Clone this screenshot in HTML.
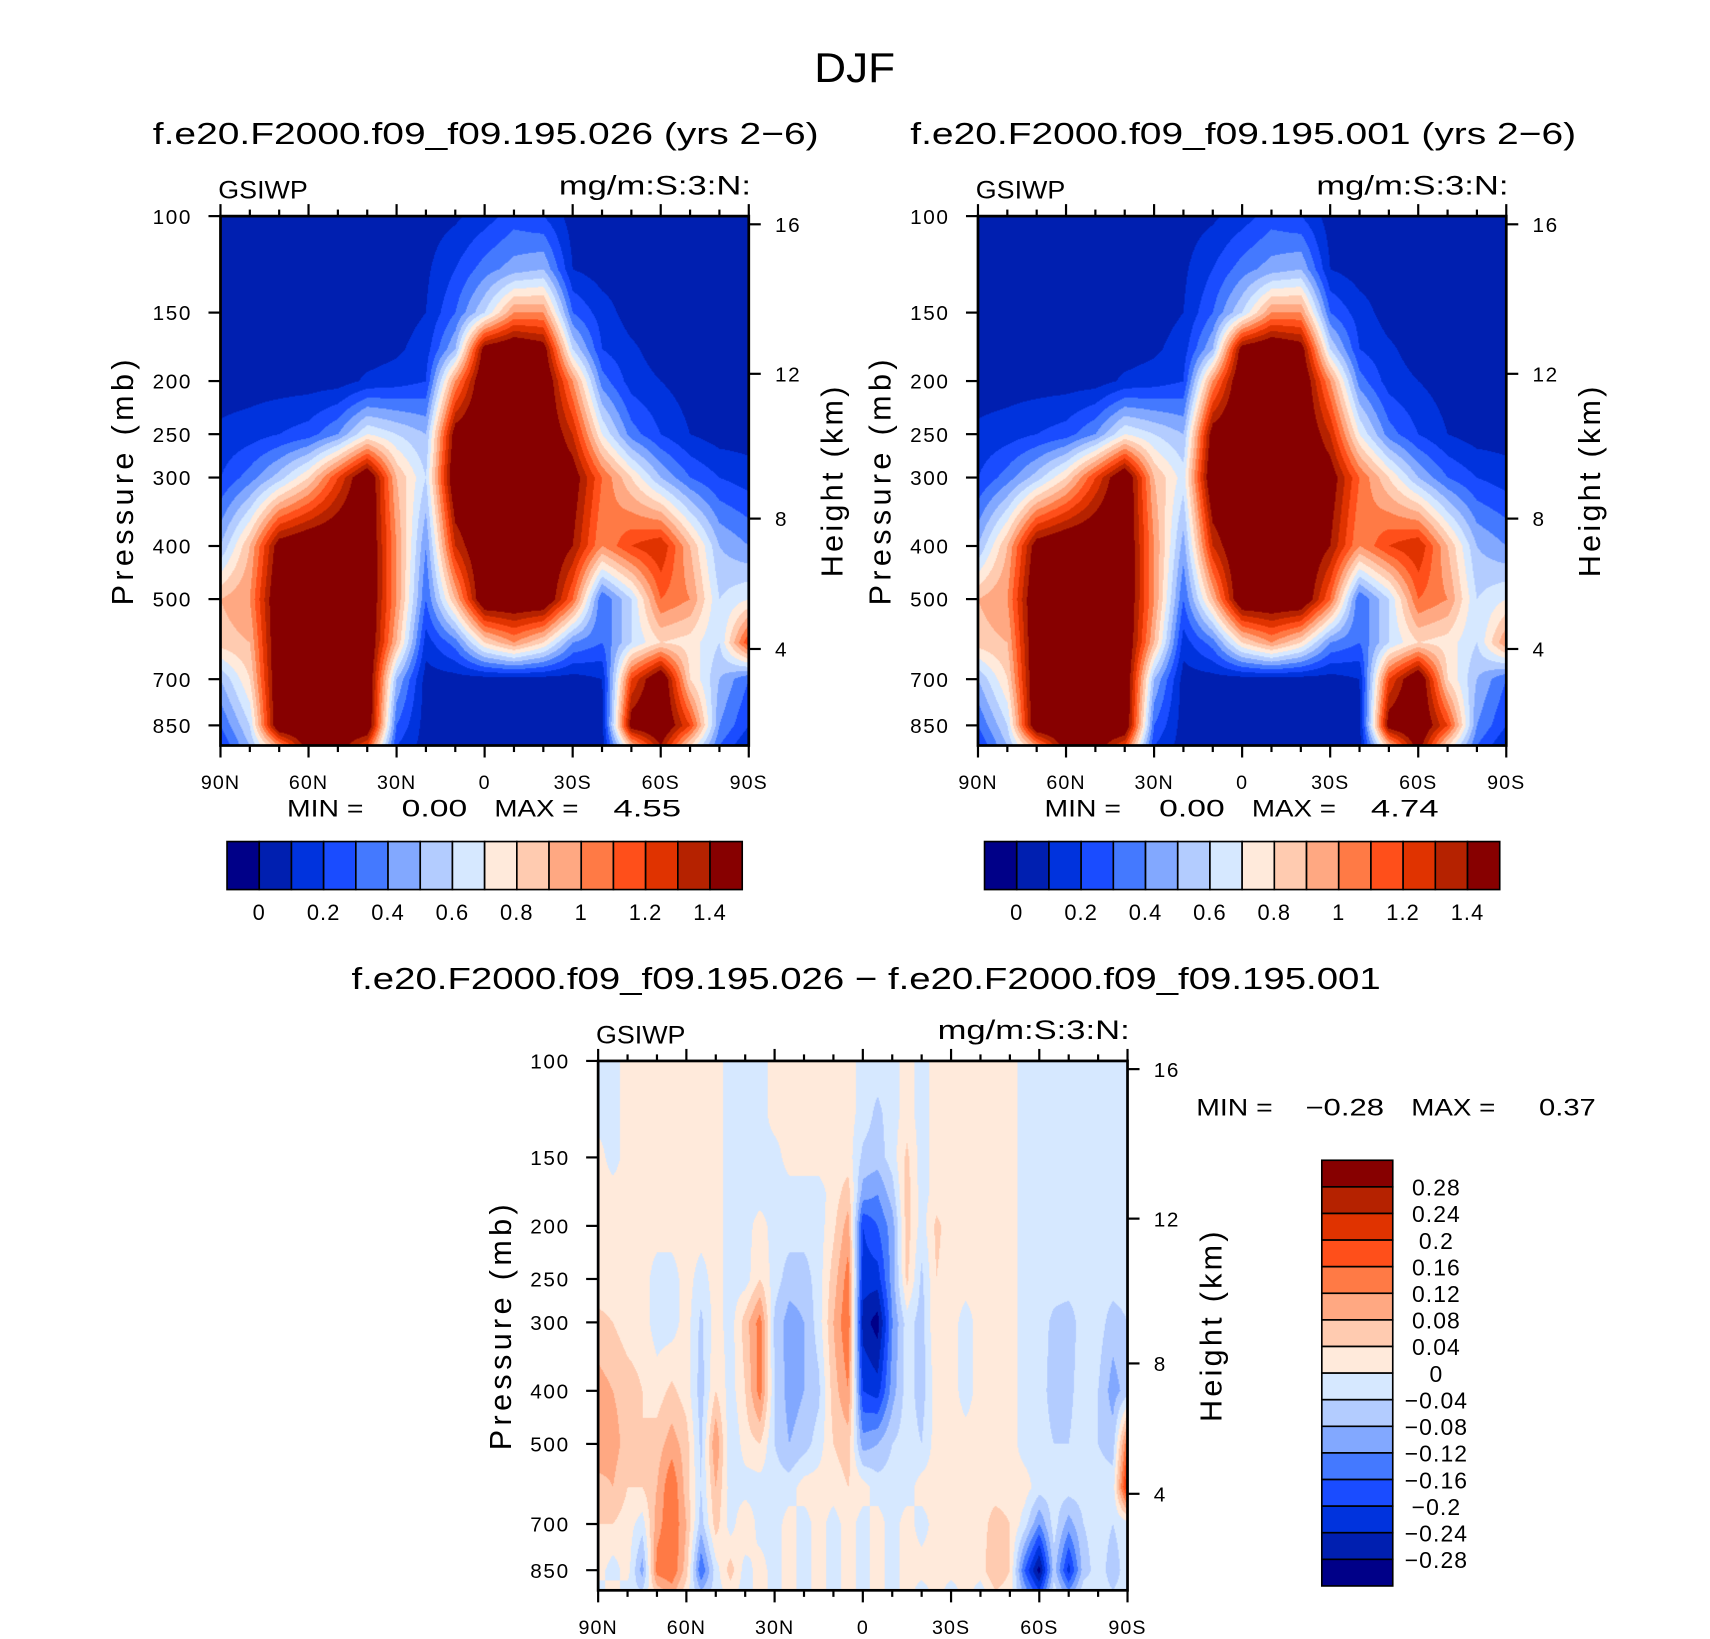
<!DOCTYPE html>
<html><head><meta charset="utf-8"><style>
html,body{margin:0;padding:0;background:#fff;width:1710px;height:1639px;overflow:hidden}
#wrap{position:absolute;left:0;top:0;width:1566px;height:1502px;transform:scale(1.0915);transform-origin:0 0}
svg{position:absolute;left:0;top:0}
canvas{position:absolute}
text{font-family:"Liberation Sans",sans-serif;fill:#000}
</style></head><body>
<div id="wrap">
<canvas id="c1"></canvas>
<canvas id="c2"></canvas>
<canvas id="c3"></canvas>
<svg id="s" width="1566" height="1502" viewBox="0 0 1566 1502">
<text x="746" y="75" font-size="38" textLength="74" lengthAdjust="spacingAndGlyphs">DJF</text>
<text x="140" y="132" font-size="28" textLength="610" lengthAdjust="spacingAndGlyphs">f.e20.F2000.f09_f09.195.026 (yrs 2−6)</text>
<text x="834" y="132" font-size="28" textLength="610" lengthAdjust="spacingAndGlyphs">f.e20.F2000.f09_f09.195.001 (yrs 2−6)</text>
<text x="322" y="906" font-size="28" textLength="943" lengthAdjust="spacingAndGlyphs">f.e20.F2000.f09_f09.195.026 − f.e20.F2000.f09_f09.195.001</text>
<g font-size="22">
<text x="263" y="748" textLength="70" lengthAdjust="spacingAndGlyphs">MIN =</text>
<text x="368" y="748" textLength="60" lengthAdjust="spacingAndGlyphs">0.00</text>
<text x="453" y="748" textLength="77" lengthAdjust="spacingAndGlyphs">MAX =</text>
<text x="562" y="748" textLength="62" lengthAdjust="spacingAndGlyphs">4.55</text>
<text x="957" y="748" textLength="70" lengthAdjust="spacingAndGlyphs">MIN =</text>
<text x="1062" y="748" textLength="60" lengthAdjust="spacingAndGlyphs">0.00</text>
<text x="1147" y="748" textLength="77" lengthAdjust="spacingAndGlyphs">MAX =</text>
<text x="1256" y="748" textLength="62" lengthAdjust="spacingAndGlyphs">4.74</text>
<text x="1096" y="1022" textLength="70" lengthAdjust="spacingAndGlyphs">MIN =</text>
<text x="1196" y="1022" textLength="72" lengthAdjust="spacingAndGlyphs">−0.28</text>
<text x="1293" y="1022" textLength="77" lengthAdjust="spacingAndGlyphs">MAX =</text>
<text x="1410" y="1022" textLength="52" lengthAdjust="spacingAndGlyphs">0.37</text>
</g>
</svg>
</div>
<script>
const LAT10 = [90,80,70,60,50,40,30,20,10,0,-10,-20,-30,-40,-50,-60,-70,-80,-90];
const LEV = [100,125,150,175,200,250,300,400,500,600,700,850,925];
const F1 = [
[0.05,0.05,0.05,0.05,0.05,0.05,0.05,0.05,0.08,0.15,0.25,0.2,0.05,0.05,0.05,0.05,0.05,0.05,0.05],
[0.05,0.05,0.05,0.05,0.05,0.05,0.05,0.08,0.2,0.35,0.45,0.5,0.1,0.05,0.05,0.05,0.05,0.05,0.05],
[0.05,0.05,0.05,0.05,0.05,0.05,0.05,0.1,0.3,0.6,1.0,1.0,0.3,0.15,0.05,0.05,0.05,0.05,0.05],
[0.05,0.05,0.05,0.05,0.05,0.05,0.08,0.15,0.5,1.5,1.6,1.5,0.6,0.2,0.12,0.05,0.05,0.05,0.05],
[0.05,0.05,0.05,0.05,0.05,0.12,0.15,0.2,1.0,1.6,1.6,1.6,1.0,0.35,0.15,0.1,0.05,0.05,0.05],
[0.12,0.15,0.2,0.25,0.4,0.7,0.6,0.5,1.5,1.6,1.6,1.6,1.3,0.7,0.35,0.2,0.1,0.05,0.05],
[0.2,0.35,0.55,0.8,1.2,1.6,0.9,0.6,1.6,1.6,1.6,1.6,1.5,1.1,0.8,0.5,0.3,0.2,0.15],
[0.5,0.9,1.5,1.6,1.6,1.6,1.0,0.4,1.3,1.6,1.6,1.6,1.4,1.0,1.2,1.3,0.9,0.5,0.4],
[0.9,1.0,1.6,1.6,1.6,1.6,1.0,0.3,0.9,1.6,1.6,1.6,1.1,0.3,0.6,1.1,1.0,0.6,0.7],
[0.85,0.9,1.6,1.6,1.6,1.6,0.9,0.15,0.35,0.8,1.0,0.8,0.4,0.3,0.6,0.8,0.75,0.6,1.2],
[0.5,0.8,1.6,1.6,1.6,1.6,0.5,0.05,0.05,0.05,0.05,0.05,0.05,0.1,1.2,1.6,0.8,0.5,0.3],
[0.3,0.6,1.6,1.6,1.6,1.6,0.3,0.05,0.05,0.05,0.05,0.05,0.05,0.05,1.5,1.6,1.2,0.4,0.2],
[0.2,0.5,1.0,1.5,1.5,1.2,0.2,0.05,0.05,0.05,0.05,0.05,0.05,0.05,0.9,1.4,0.8,0.3,0.1]
];
const F2 = [
[0.05,0.05,0.05,0.05,0.05,0.05,0.05,0.05,0.08,0.15,0.25,0.2,0.05,0.05,0.05,0.05,0.05,0.05,0.05],
[0.05,0.05,0.05,0.05,0.05,0.05,0.05,0.08,0.2,0.35,0.45,0.5,0.1,0.05,0.05,0.05,0.05,0.05,0.05],
[0.05,0.05,0.05,0.05,0.05,0.05,0.05,0.1,0.3,0.6,1.0,1.0,0.3,0.15,0.05,0.05,0.05,0.05,0.05],
[0.05,0.05,0.05,0.05,0.05,0.05,0.08,0.15,0.5,1.5,1.6,1.5,0.6,0.2,0.12,0.05,0.05,0.05,0.05],
[0.05,0.05,0.05,0.05,0.05,0.12,0.15,0.2,1.0,1.6,1.6,1.6,1.0,0.35,0.15,0.1,0.05,0.05,0.05],
[0.12,0.15,0.2,0.25,0.4,0.7,0.6,0.5,1.5,1.6,1.6,1.6,1.3,0.7,0.35,0.2,0.1,0.05,0.05],
[0.2,0.35,0.55,0.8,1.2,1.6,0.9,0.65,1.6,1.6,1.6,1.6,1.5,1.1,0.8,0.5,0.3,0.2,0.15],
[0.5,0.9,1.5,1.6,1.6,1.6,1.0,0.45,1.3,1.6,1.6,1.6,1.4,1.0,1.2,1.3,0.9,0.5,0.4],
[0.9,1.0,1.6,1.6,1.6,1.6,1.0,0.3,0.9,1.6,1.6,1.6,1.1,0.3,0.6,1.1,1.0,0.6,0.7],
[0.85,0.9,1.6,1.6,1.6,1.6,0.9,0.15,0.35,0.8,1.0,0.8,0.4,0.3,0.6,0.8,0.75,0.6,1.0],
[0.5,0.8,1.6,1.6,1.6,1.6,0.5,0.05,0.05,0.05,0.05,0.05,0.05,0.1,1.2,1.6,0.8,0.5,0.3],
[0.3,0.6,1.6,1.6,1.6,1.6,0.3,0.05,0.05,0.05,0.05,0.05,0.05,0.05,1.5,1.6,1.2,0.4,0.2],
[0.2,0.5,1.0,1.5,1.5,1.2,0.2,0.05,0.05,0.05,0.05,0.05,0.05,0.05,0.9,1.5,0.8,0.3,0.1]
];
const LAT5 = [90,85,80,75,70,65,60,55,50,45,40,35,30,25,20,15,10,5,0,-5,-10,-15,-20,-25,-30,-35,-40,-45,-50,-55,-60,-65,-70,-75,-80,-85,-90];
const p = 0.02, n = -0.02;
const FD = [
[n,n,p,p,p,p,p,p,p,n,n,n,p,p,p,p,p,p,n,n,n,p,n,p,p,p,p,p,p,n,n,n,n,n,n,n,n],
[n,n,p,p,p,p,p,p,p,n,n,n,p,p,p,p,p,p,n,-0.05,n,p,n,p,p,p,p,p,p,n,n,n,n,n,n,n,n],
[p,n,p,p,p,p,p,p,p,n,n,n,n,p,p,p,p,p,-0.05,-0.06,n,0.05,n,p,p,p,p,p,p,n,n,n,n,n,n,n,n],
[p,p,p,p,p,p,p,p,p,n,n,n,n,n,n,n,p,0.06,-0.1,-0.12,-0.06,0.06,n,p,p,p,p,p,p,n,n,n,n,n,n,n,n],
[p,p,p,p,p,p,p,p,p,n,n,p,n,n,n,n,0.03,0.1,-0.2,-0.16,-0.1,0.06,n,0.05,p,p,p,p,p,n,n,n,n,n,n,n,n],
[p,p,p,p,n,n,p,n,p,n,n,0.04,n,-0.06,-0.06,n,0.06,0.14,-0.22,-0.22,-0.1,0.05,-0.05,0.04,p,p,p,p,p,n,n,n,n,n,n,n,n],
[0.05,0.04,p,p,n,n,p,-0.05,p,n,0.06,0.14,-0.05,-0.1,-0.08,n,0.08,0.16,-0.26,-0.3,-0.12,n,-0.06,0.04,p,n,p,p,p,n,n,-0.05,-0.06,n,n,-0.06,-0.04],
[0.1,0.08,0.06,0.04,p,0.05,p,-0.06,0.04,n,0.04,0.14,-0.04,-0.1,-0.08,-0.05,0.06,0.12,-0.2,-0.22,-0.1,n,-0.06,p,p,n,p,p,p,n,n,-0.06,-0.05,n,-0.04,-0.1,-0.06],
[0.12,0.1,0.06,0.04,0.06,0.1,0.06,-0.05,0.12,-0.04,p,0.04,-0.04,-0.08,-0.06,n,0.04,0.06,-0.1,-0.08,-0.04,n,-0.04,p,p,p,p,p,p,n,n,-0.04,-0.04,n,-0.04,-0.06,0.16],
[0.06,0.08,0.04,0.04,0.08,0.16,0.06,-0.04,0.08,n,n,n,n,n,p,p,p,0.04,p,n,n,n,p,p,p,p,p,p,p,p,n,n,n,n,n,n,0.24],
[0.04,0.04,p,n,0.1,0.16,0.08,-0.06,0.06,n,0.04,n,n,p,n,p,n,p,n,p,n,p,n,p,p,p,p,0.06,0.04,n,-0.12,n,-0.1,-0.04,n,-0.04,n],
[p,n,p,-0.1,0.14,0.16,0.06,-0.16,n,0.06,n,p,n,p,n,p,n,p,n,p,n,p,p,p,p,p,p,0.08,0.04,-0.16,-0.3,-0.06,-0.22,-0.06,n,-0.06,n],
[n,p,n,-0.04,0.06,0.1,p,-0.08,n,p,n,p,n,p,n,p,n,p,n,p,n,p,n,p,n,p,n,0.04,p,-0.1,-0.2,n,-0.12,n,n,-0.04,n]
];
const PAL = ['#000088','#001fb0','#0033dd','#1a4cff','#4479ff','#82a8ff','#b3ccff','#d6e8ff','#ffeadb','#ffcbb0','#ffa882','#ff7a45','#ff4f1a','#e03300','#b52200','#870000'];
const CB1 = ['0','0.2','0.4','0.6','0.8','1','1.2','1.4'];
const CBD = ['0.28','0.24','0.2','0.16','0.12','0.08','0.04','0','−0.04','−0.08','−0.12','−0.16','−0.2','−0.24','−0.28'];
const PTICKS = [100,150,200,250,300,400,500,700,850];
const HTICKS = ['16','12','8','4'];
const HPRES = [103.5,194,356.5,616.6];
const XTICKS = ['90N','60N','30N','0','30S','60S','90S'];

const S = document.getElementById('s');
const NS = 'http://www.w3.org/2000/svg';
function mk(tag, attrs){const e=document.createElementNS(NS,tag);for(const k in attrs)e.setAttribute(k,attrs[k]);S.appendChild(e);return e;}

function interp(grid, lats, lat, pr){
  const lp=Math.log(pr);
  let j=0; while(j<LEV.length-2 && Math.log(LEV[j+1])<lp) j++;
  let ty=(lp-Math.log(LEV[j]))/(Math.log(LEV[j+1])-Math.log(LEV[j])); ty=Math.max(0,Math.min(1,ty));
  let i=0; while(i<lats.length-2 && lats[i+1]>lat) i++;
  let tx=(lats[i]-lat)/(lats[i]-lats[i+1]); tx=Math.max(0,Math.min(1,tx));
  const a=grid[j][i],b=grid[j][i+1],c=grid[j+1][i],d=grid[j+1][i+1];
  return (a*(1-tx)+b*tx)*(1-ty)+(c*(1-tx)+d*tx)*ty;
}
function hex(h){return [parseInt(h.substr(1,2),16),parseInt(h.substr(3,2),16),parseInt(h.substr(5,2),16)];}
const RGB=PAL.map(hex);

function panel(id, X, Y, W, H, grid, lats, quant, tag){
  const cv=document.getElementById(id);
  const sc=1.1;
  cv.width=Math.round(W*sc); cv.height=Math.round(H*sc);
  cv.style.left=X+'px'; cv.style.top=Y+'px'; cv.style.width=W+'px'; cv.style.height=H+'px';
  const ctx=cv.getContext('2d'); const im=ctx.createImageData(cv.width,cv.height);
  const L=Math.log(925/100);
  for(let py=0;py<cv.height;py++){
    const pr=100*Math.exp((py+0.5)/cv.height*L);
    for(let px=0;px<cv.width;px++){
      const lat=90-(px+0.5)/cv.width*180;
      const c=RGB[quant(interp(grid,lats,lat,pr))];
      const o=(py*cv.width+px)*4; im.data[o]=c[0];im.data[o+1]=c[1];im.data[o+2]=c[2];im.data[o+3]=255;
    }
  }
  ctx.putImageData(im,0,0);
  const yOf=pr=>Y+Math.log(pr/100)/L*H;
  const xOf=lat=>X+(90-lat)/180*W;
  const fr=mk('rect',{x:X,y:Y,width:W,height:H,fill:'none',stroke:'#000','stroke-width':2.5});
  
  
  for(let lat=90;lat>=-90;lat-=10){
    const major=(lat%30===0); const len=major?11:6;
    const t1=mk('line',{x1:xOf(lat),x2:xOf(lat),y1:Y+H,y2:Y+H+len,stroke:'#000','stroke-width':2});
    
    
    const t2=mk('line',{x1:xOf(lat),x2:xOf(lat),y1:Y,y2:Y-len,stroke:'#000','stroke-width':2});
    
    
  }
  XTICKS.forEach((s,k)=>{
    const t=mk('text',{x:xOf(90-k*30),y:Y+H+40,'font-size':18,'text-anchor':'middle','letter-spacing':'1'});
    t.textContent=s;
    
    
  });
  PTICKS.forEach(v=>{
    const l=mk('line',{x1:X-11,x2:X,y1:yOf(v),y2:yOf(v),stroke:'#000','stroke-width':2});
    
    
    const t=mk('text',{x:X-26,y:yOf(v)+7,'font-size':19,'text-anchor':'end','letter-spacing':'1.5'});
    t.textContent=v;
    
    
  });
  HTICKS.forEach((s,k)=>{
    const yy=yOf(HPRES[k]);
    const l=mk('line',{x1:X+W,x2:X+W+11,y1:yy,y2:yy,stroke:'#000','stroke-width':2});
    
    
    const t=mk('text',{x:X+W+24,y:yy+7,'font-size':19,'letter-spacing':'1.5'});
    t.textContent=s;
    
    
  });
  const pt=mk('text',{x:0,y:0,'font-size':28,'text-anchor':'middle','letter-spacing':'4',transform:`translate(${X-80},${Y+242}) rotate(-90)`});
  pt.textContent='Pressure  (mb)';
  
  
  const ht=mk('text',{x:0,y:0,'font-size':28,'text-anchor':'middle','letter-spacing':'3',transform:`translate(${X+W+86},${Y+242}) rotate(-90)`});
  ht.textContent='Height  (km)';
  
  
  const g=mk('text',{x:X-2,y:Y-16,'font-size':23,textLength:82,lengthAdjust:'spacingAndGlyphs'});
  g.textContent='GSIWP';
  
  
  const u=mk('text',{x:X+W-174,y:Y-20,'font-size':25,textLength:176,lengthAdjust:'spacingAndGlyphs'});
  u.textContent='mg/m:S:3:N:';
  
  
}
const q1=v=>v<0?0:Math.min(15,Math.floor(v/0.1)+1);
const qd=v=>v<-0.28?0:Math.min(15,Math.floor((v+0.28)/0.04)+1);
panel('c1',202,198,484,485,F1,LAT10,q1,'panel1');
panel('c2',896,198,484,485,F2,LAT10,q1,'panel2');
panel('c3',548,972,485,485,FD,LAT5,qd,'diff');

function hbar(X,Y,W,H,tag){
  const bw=W/16;
  for(let i=0;i<16;i++){
    const r=mk('rect',{x:X+i*bw,y:Y,width:bw,height:H,fill:PAL[i],stroke:'#000','stroke-width':1.5});
    
    
  }
  CB1.forEach((s,k)=>{
    const t=mk('text',{x:X+(1+2*k)*bw,y:Y+H+28,'font-size':20,'text-anchor':'middle','letter-spacing':'1'});
    t.textContent=s;
    
    
  });
}
hbar(208,771,472,44,'panel1');
hbar(902,771,472,44,'panel2');
(function(){
  const X=1211,Y=1063,W=65,H=390,bh=H/16;
  for(let i=0;i<16;i++){
    const r=mk('rect',{x:X,y:Y+i*bh,width:W,height:bh,fill:PAL[15-i],stroke:'#000','stroke-width':1.5});
    
    
  }
  CBD.forEach((s,k)=>{
    const t=mk('text',{x:1316,y:Y+(k+1)*bh+8,'font-size':21,'text-anchor':'middle','letter-spacing':'1'});
    t.textContent=s;
    
    
  });
})();
</script>
</body></html>
